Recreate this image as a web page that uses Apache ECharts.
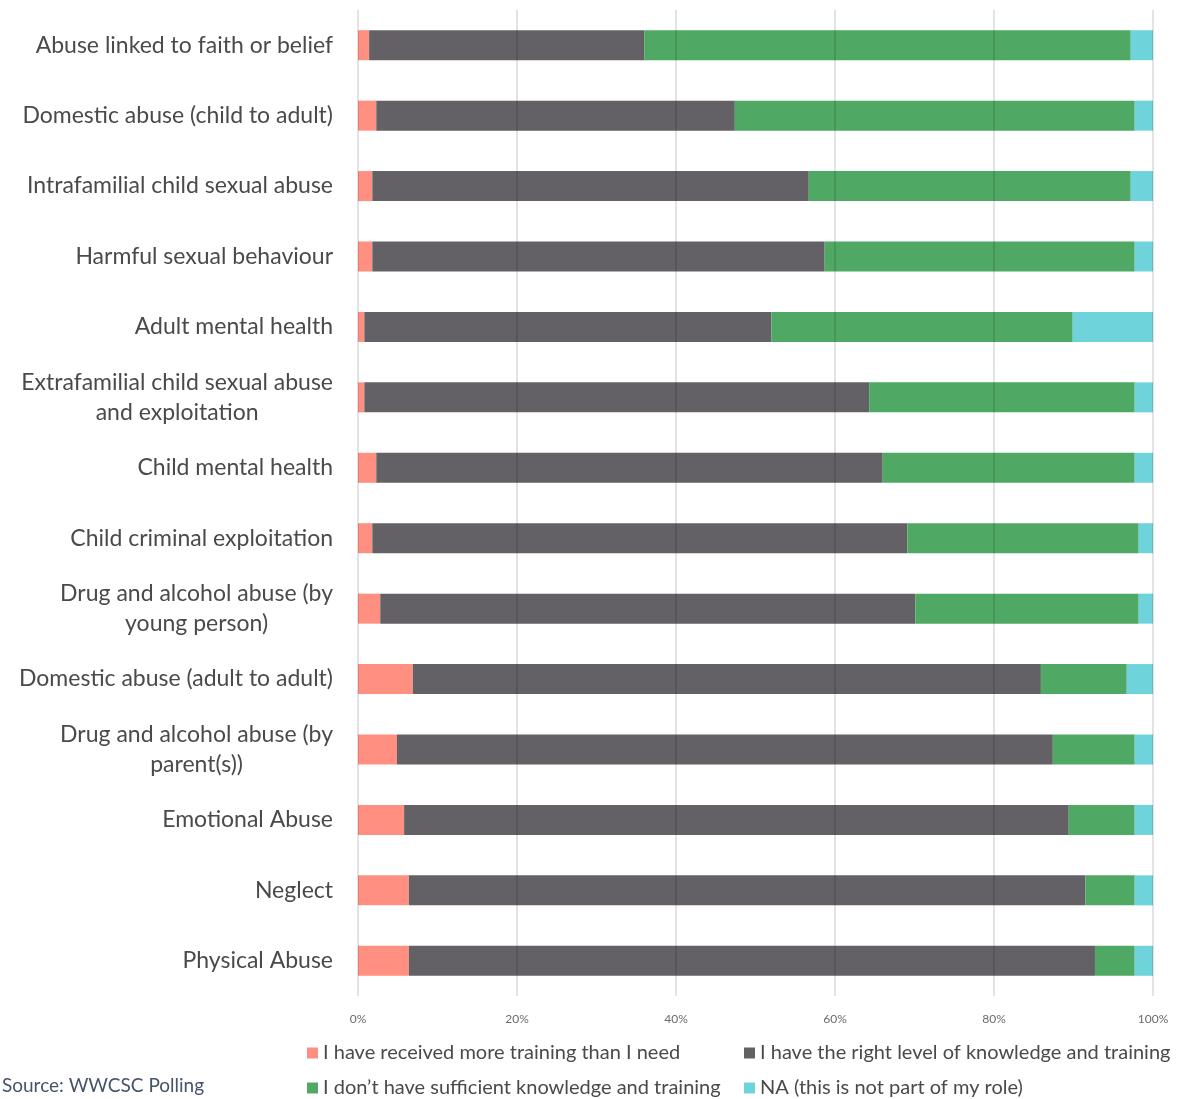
<!DOCTYPE html>
<html>
<head>
<meta charset="utf-8">
<script src="https://cdn.jsdelivr.net/npm/echarts@6/dist/echarts.min.js"></script>
<style>
  html, body { margin: 0; padding: 0; background: #fff; }
  #chart { width: 1182px; height: 1099px; }
</style>
</head>
<body>
<div id="chart"></div>
<script>
// Topics, listed top to bottom
const categories = [
  'Abuse linked to faith or belief',
  'Domestic abuse (child to adult)',
  'Intrafamilial child sexual abuse',
  'Harmful sexual behaviour',
  'Adult mental health',
  'Extrafamilial child sexual abuse\nand exploitation',
  'Child mental health',
  'Child criminal exploitation',
  'Drug and alcohol abuse (by\nyoung person)',
  'Domestic abuse (adult to adult)',
  'Drug and alcohol abuse (by\nparent(s))',
  'Emotional Abuse',
  'Neglect',
  'Physical Abuse'
];

const seriesNames = [
  'I have received more training than I need',
  'I have the right level of knowledge and training',
  'I don\u2019t have sufficient knowledge and training',
  'NA (this is not part of my role)'
];

// Share of respondents (%) per topic
const moreThanNeeded = [1.4, 2.3, 1.8, 1.8, 0.8, 0.8, 2.3, 1.8, 2.8, 6.9, 4.9, 5.8, 6.4, 6.4];
const rightLevel     = [34.6, 45.1, 54.9, 56.9, 51.2, 63.5, 63.7, 67.3, 67.3, 79.0, 82.5, 83.6, 85.1, 86.3];
const notSufficient  = [61.2, 50.3, 40.5, 39.0, 37.9, 33.4, 31.7, 29.1, 28.1, 10.8, 10.3, 8.3, 6.2, 5.0];
const notMyRole      = [2.8, 2.3, 2.8, 2.3, 10.1, 2.3, 2.3, 1.8, 1.8, 3.3, 2.3, 2.3, 2.3, 2.3];

const xTicks = [0, 20, 40, 60, 80, 100];

const colors = ['#FF8F80', '#636166', '#4FA964', '#6ED3DB'];
const values = [moreThanNeeded, rightLevel, notSufficient, notMyRole];

// Legend placement: two columns, two rows
const legendSpots = [
  { left: 302, top: 1038 },
  { left: 739, top: 1038 },
  { left: 302, top: 1073 },
  { left: 739, top: 1073 }
];

const chart = echarts.init(document.getElementById('chart'));

chart.setOption({
  animation: false,
  title: {
    text: 'Source: WWCSC Polling',
    left: 2,
    top: 1076,
    padding: 0,
    textStyle: { fontFamily: 'Lato', fontSize: 19, fontWeight: 'normal', color: '#44546A' }
  },
  grid: { left: 358, right: 29, top: 10, bottom: 103, containLabel: false },
  xAxis: {
    type: 'value',
    min: xTicks[0],
    max: xTicks[xTicks.length - 1],
    interval: 20,
    z: 3,
    axisLine: { show: false },
    axisTick: { show: false },
    splitLine: { show: true, lineStyle: { color: 'rgba(0,0,0,0.15)', width: 1.5 } },
    axisLabel: {
      margin: 17,
      fontFamily: 'Lato',
      fontSize: 12,
      color: '#6b6b6b',
      formatter: v => v + '%'
    }
  },
  yAxis: {
    type: 'category',
    data: categories,
    inverse: true,
    axisLine: { show: false },
    axisTick: { show: false },
    axisLabel: {
      margin: 25,
      fontFamily: 'Lato',
      fontSize: 23,
      color: '#4a4a4a',
      lineHeight: 30,
      formatter: v => v.split('\n').map(s => '{c|' + s + '}').join('\n'),
      rich: {
        c: { align: 'center', fontFamily: 'Lato', fontSize: 23, color: '#4a4a4a', lineHeight: 30 }
      }
    }
  },
  legend: seriesNames.map((name, i) => ({
    data: [name],
    left: legendSpots[i].left,
    top: legendSpots[i].top,
    itemWidth: 11,
    itemHeight: 11,
    itemGap: 0,
    icon: 'rect',
    textStyle: { fontFamily: 'Lato', fontSize: 20, color: '#4a4a4a' }
  })),
  series: seriesNames.map((name, i) => ({
    name: name,
    type: 'bar',
    stack: 'total',
    barWidth: 30,
    itemStyle: { color: colors[i] },
    data: values[i]
  }))
});
</script>
</body>
</html>
